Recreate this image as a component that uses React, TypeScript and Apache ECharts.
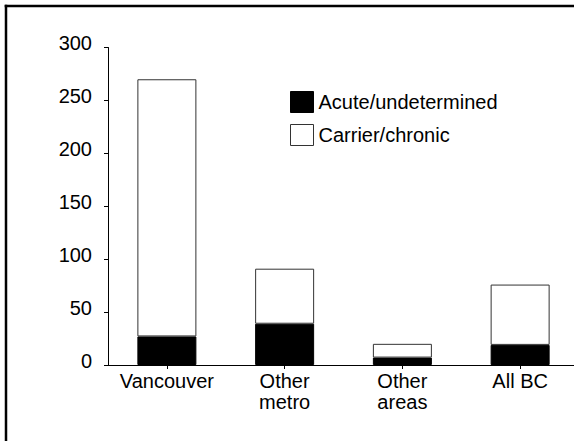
import React, { useEffect, useRef } from "react";
import * as echarts from "echarts";

const categories = ["Vancouver", "Other\nmetro", "Other\nareas", "All BC"];
const acuteValues = [27, 39, 7, 19];
const carrierValues = [243, 52, 13, 57];
const seriesNames = ["Acute/undetermined", "Carrier/chronic"];
const yMin = 0;
const yMax = 300;
const yInterval = 50;

const FONT = "'Liberation Sans', Arial, sans-serif";

export default function App() {
  const ref = useRef<HTMLDivElement>(null);

  useEffect(() => {
    if (!ref.current) return;
    const chart = echarts.init(ref.current, null, { renderer: "svg" });
    chart.setOption({
      animation: false,
      backgroundColor: "#ffffff",
      textStyle: { fontFamily: FONT, color: "#000" },
      grid: { left: 108, right: 21, top: 47.5, bottom: 76, containLabel: false },
      legend: {
        orient: "vertical",
        left: 290,
        top: 91,
        padding: 0,
        itemWidth: 23,
        itemHeight: 21,
        itemGap: 11,
        icon: "rect",
        selectedMode: false,
        textStyle: {
          fontSize: 20,
          color: "#000",
          fontFamily: FONT,
          verticalAlign: "bottom",
          lineHeight: 8,
        },
        data: [
          { name: seriesNames[0], itemStyle: { color: "#000", borderColor: "#000", borderWidth: 1 } },
          { name: seriesNames[1], itemStyle: { color: "#fff", borderColor: "#333", borderWidth: 1 } },
        ],
      },
      xAxis: {
        type: "category",
        data: categories,
        axisLine: { show: true, lineStyle: { color: "#000", width: 1 } },
        axisTick: { show: true, alignWithLabel: true, length: 4, lineStyle: { color: "#000" } },
        axisLabel: {
          interval: 0,
          fontSize: 20,
          lineHeight: 21.5,
          color: "#000",
          fontFamily: FONT,
          margin: 5,
        },
        splitLine: { show: false },
      },
      yAxis: {
        type: "value",
        min: yMin,
        max: yMax,
        interval: yInterval,
        axisLine: { show: true, lineStyle: { color: "#000", width: 1 } },
        axisTick: { show: true, inside: false, length: 4, lineStyle: { color: "#000" } },
        axisLabel: {
          fontSize: 20,
          color: "#000",
          fontFamily: FONT,
          margin: 16,
          verticalAlign: "bottom",
          lineHeight: 9,
        },
        splitLine: { show: false },
      },
      graphic: [
        {
          type: "line",
          shape: { x1: 4.7, y1: 6, x2: 600, y2: 6 },
          style: { stroke: "#000", lineWidth: 2.5 },
        },
        {
          type: "line",
          shape: { x1: 6, y1: 4.7, x2: 6, y2: 441 },
          style: { stroke: "#000", lineWidth: 2.5 },
        },
      ],
      series: [
        {
          name: seriesNames[0],
          type: "bar",
          stack: "total",
          barWidth: 59,
          data: acuteValues,
          itemStyle: { color: "#000", borderColor: "#000", borderWidth: 1 },
        },
        {
          name: seriesNames[1],
          type: "bar",
          stack: "total",
          barWidth: 59,
          data: carrierValues,
          itemStyle: { color: "#fff", borderColor: "#333", borderWidth: 1 },
        },
      ],
    });
    return () => chart.dispose();
  }, []);

  return (
    <div
      ref={ref}
      style={{ position: "fixed", left: 0, top: 0, width: 600, height: 441, background: "#fff" }}
    />
  );
}
